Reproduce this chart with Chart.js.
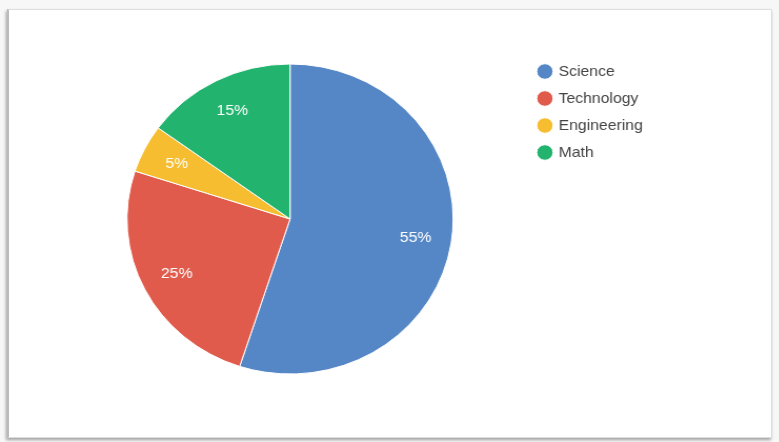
<!DOCTYPE html>
<html>
<head>
<meta charset="utf-8">
<script src="https://cdn.jsdelivr.net/npm/chart.js@4/dist/chart.umd.min.js"></script>
<style>
  html, body { margin: 0; padding: 0; background: #f7f7f7; }
  body { width: 779px; height: 442px; position: relative; overflow: hidden; }
  .frame {
    position: absolute; left: 7px; top: 9px; width: 762px; height: 427px;
    background: #fff; border: 1px solid #ddd; border-left: 2px solid #bbb;
    box-shadow: -1px 2px 3px rgba(0,0,0,0.35);
  }
  .wrap {
    position: absolute; left: 0; top: 0; width: 740px; height: 442px;
    transform: scaleX(1.052); transform-origin: 0 0;
  }
</style>
</head>
<body>
<div class="frame"></div>
<div class="wrap"><canvas id="pie"></canvas></div>
<script>
const labels = ["Science", "Technology", "Engineering", "Math"];
const shares = [55, 25, 5, 15];
const colors = ["#5587c6", "#e05b4c", "#f5bd2f", "#22b36e"];

// percent text inside each slice
const sliceText = {
  id: "sliceText",
  afterDatasetsDraw(chart) {
    const ctx = chart.ctx;
    const meta = chart.getDatasetMeta(0);
    const total = shares.reduce((a, b) => a + b, 0);
    ctx.save();
    ctx.fillStyle = "#fff";
    ctx.font = "15px Arial, 'Liberation Sans', sans-serif";
    ctx.textAlign = "center";
    ctx.textBaseline = "middle";
    meta.data.forEach((arc, i) => {
      const p = arc.getProps(["x", "y", "startAngle", "endAngle", "outerRadius"], true);
      const mid = (p.startAngle + p.endAngle) / 2;
      const r = p.outerRadius * 0.78;
      ctx.fillText(Math.round(shares[i] / total * 100) + "%", p.x + Math.cos(mid) * r, p.y + Math.sin(mid) * r);
    });
    ctx.restore();
  }
};

new Chart(document.getElementById("pie"), {
  type: "pie",
  data: {
    labels: labels,
    datasets: [
      {
        data: shares,
        backgroundColor: colors,
        borderColor: "#fff",
        borderWidth: 1,
        radius: 155
      }
    ]
  },
  options: {
    responsive: true,
    maintainAspectRatio: false,
    animation: false,
    layout: {
      padding: { top: 52, bottom: 56, left: 51, right: 119 }
    },
    plugins: {
      tooltip: { enabled: false },
      legend: {
        position: "right",
        align: "start",
        labels: {
          usePointStyle: true,
          pointStyle: "circle",
          boxWidth: 11,
          boxHeight: 11,
          padding: 12,
          color: "#444",
          font: { family: "Arial, 'Liberation Sans', sans-serif", size: 15 }
        }
      }
    }
  },
  plugins: [sliceText]
});
</script>
</body>
</html>
